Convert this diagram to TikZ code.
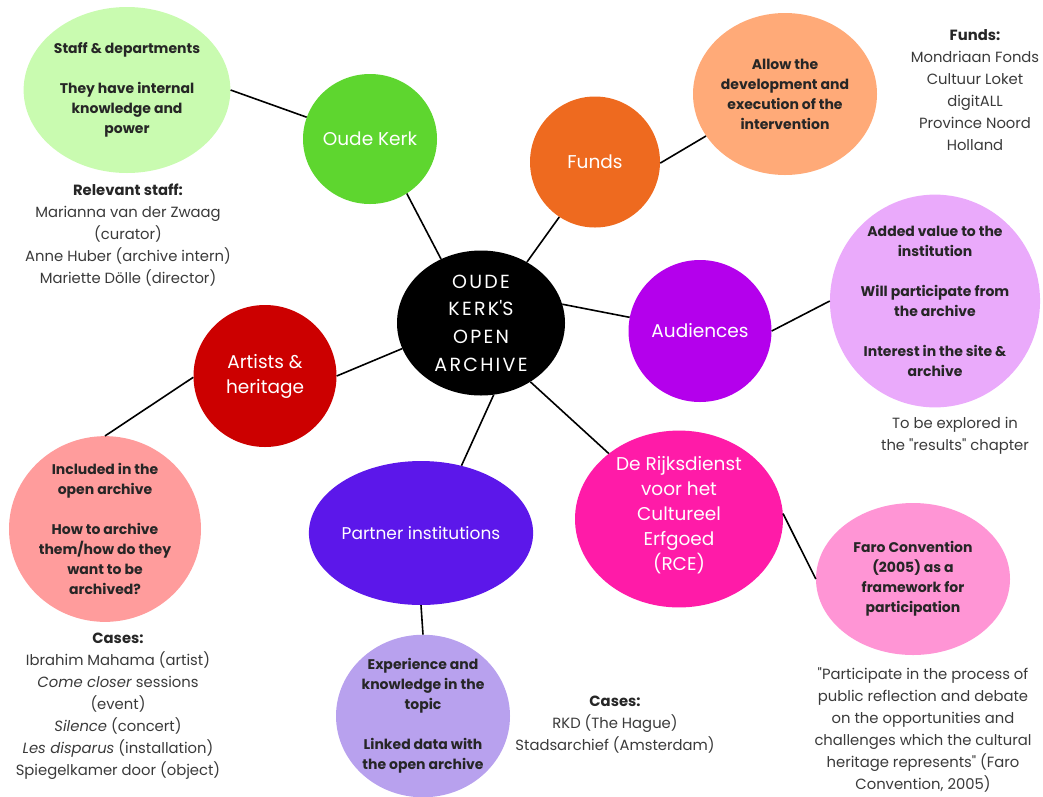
\documentclass[tikz,border=0pt]{standalone}
\usepackage{fontspec}
\setmainfont{Poppins}
\usepackage{xcolor}
\usetikzlibrary{positioning, shapes.geometric}

\definecolor{kerkgreen}{RGB}{94,214,47}
\definecolor{staffgreen}{RGB}{201,251,176}
\definecolor{fundorange}{RGB}{238,106,31}
\definecolor{fundpeach}{RGB}{255,170,120}
\definecolor{audpurple}{RGB}{180,0,236}
\definecolor{audlilac}{RGB}{234,170,251}
\definecolor{artred}{RGB}{204,0,0}
\definecolor{artpink}{RGB}{255,156,156}
\definecolor{partviolet}{RGB}{92,23,234}
\definecolor{partlav}{RGB}{184,161,238}
\definecolor{rcepink}{RGB}{255,27,168}
\definecolor{faropink}{RGB}{255,149,213}
\definecolor{notegray}{RGB}{58,58,58}

\begin{document}
\begin{tikzpicture}[x=1pt, y=-1pt]

			% Styles
			\tikzset{
				hub/.style={
					ellipse, fill=black, inner sep=0pt,
					minimum width=168pt, minimum height=145pt,
					text=white, align=center,
					font=\addfontfeatures{LetterSpace=12}\fontsize{19}{27.7}\selectfont
				},
				topic/.style={
					ellipse, inner sep=0pt, text=white, align=center,
					font=\fontsize{18.5}{25}\selectfont
				},
				detail/.style={
					ellipse, inner sep=0pt, text=black!85, align=center,
					font=\bfseries\fontsize{14}{20}\selectfont
				},
				note/.style={
					align=center, text=notegray, inner sep=0pt,
					font=\fontsize{14.8}{22}\selectfont
				},
				link/.style={line width=1.6pt, black}
			}

			\useasboundingbox (0,0) rectangle (1043,796);

			% Center
			\node (hub) [hub] at (481,323) {OUDE\\KERK\textquotesingle S\\OPEN\\ARCHIVE};

			% Oude Kerk
			\node (kerk) [topic, fill=kerkgreen, minimum width=134pt, minimum height=130pt] at (370,139) {Oude Kerk};
			\node (staff) [detail, fill=staffgreen, minimum width=202pt, minimum height=166pt] at (127,90) {Staff \& departments\\[20pt]They have internal\\knowledge and\\power};
			\node (staffnote) [note] at (128,235) {\textbf{\color{black!85}Relevant staff:}\\Marianna van der Zwaag\\(curator)\\Anne Huber (archive intern)\\Mariette Dölle (director)};

			% Funds
			\node (funds) [topic, fill=fundorange, minimum width=130pt, minimum height=131pt] at (595,162) {Funds};
			\node (allow) [detail, fill=fundpeach, minimum width=184pt, minimum height=162pt] at (785,94) {Allow the\\development and\\execution of the\\intervention};
			\node (fundsnote) [note] at (975,90) {\textbf{\color{black!85}Funds:}\\Mondriaan Fonds\\Cultuur Loket\\digitALL\\Province Noord\\Holland};

			% Audiences
			\node (aud) [topic, fill=audpurple, minimum width=143pt, minimum height=142pt] at (700,331) {Audiences};
			\node (value) [detail, fill=audlilac, minimum width=206pt, minimum height=208pt] at (935,301) {Added value to the\\institution\\[20pt]Will participate from\\the archive\\[20pt]Interest in the site \&\\archive};
			\node (audnote) [note] at (955,436) {To be explored in\\the \textquotedbl results\textquotedbl\ chapter};

			% Artists & heritage
			\node (artists) [topic, fill=artred, minimum width=143pt, minimum height=142pt] at (265,376) {Artists \&\\heritage};
			\node (included) [detail, fill=artpink, minimum width=192pt, minimum height=182pt] at (105,529) {Included in the\\open archive\\[20pt]How to archive\\them/how do they\\want to be\\archived?};
			\node (artnote) [note] at (118,706) {\textbf{\color{black!85}Cases:}\\Ibrahim Mahama (artist)\\\textit{Come closer} sessions\\(event)\\\textit{Silence} (concert)\\\textit{Les disparus} (installation)\\Spiegelkamer door (object)};

			% Partner institutions
			\node (partner) [topic, fill=partviolet, minimum width=213pt, minimum height=144pt, font=\fontsize{17}{24}\selectfont] at (421,533) {Partner institutions};
			\node (exp) [detail, fill=partlav, minimum width=174pt, minimum height=158pt] at (423,716) {Experience and\\knowledge in the\\topic\\[20pt]Linked data with\\the open archive};
			\node (partnote) [note] at (615,725) {\textbf{\color{black!85}Cases:}\\RKD (The Hague)\\Stadsarchief (Amsterdam)};

			% RCE
			\node (rce) [topic, fill=rcepink, minimum width=208pt, minimum height=146pt] at (679,519) {De Rijksdienst\\voor het\\Cultureel\\Erfgoed\\(RCE)\\[-14pt]};
			\node (faro) [detail, fill=faropink, minimum width=194pt, minimum height=152pt] at (913,579) {Faro Convention\\(2005) as a\\framework for\\participation};
			\node (faronote) [note] at (923,730) {\textquotedbl Participate in the process of\\public reflection and debate\\on the opportunities and\\challenges which the cultural\\heritage represents\textquotedbl\ (Faro\\Convention, 2005)};

			% Lines: center to topics
			\draw[link] (hub.122) -- (kerk.304);
			\draw[link] (hub.53) -- (funds.237);
			\draw[link] (hub.13) -- (aud.169);
			\draw[link] (hub.198) -- (artists.0);
			\draw[link] (hub.280) -- (partner.59);
			\draw[link] (hub.310) -- (rce.137);

			% Lines: topics to details
			\draw[link] (kerk.161) -- (staff.0);
			\draw[link] (funds.359) -- (allow.208);
			\draw[link] (aud.0) -- (value.180);
			\draw[link] (artists.181) -- (included.90);
			\draw[link] (partner.270) -- (exp.90);
			\draw[link] (rce.3) -- (faro.180);

\end{tikzpicture}
\end{document}
